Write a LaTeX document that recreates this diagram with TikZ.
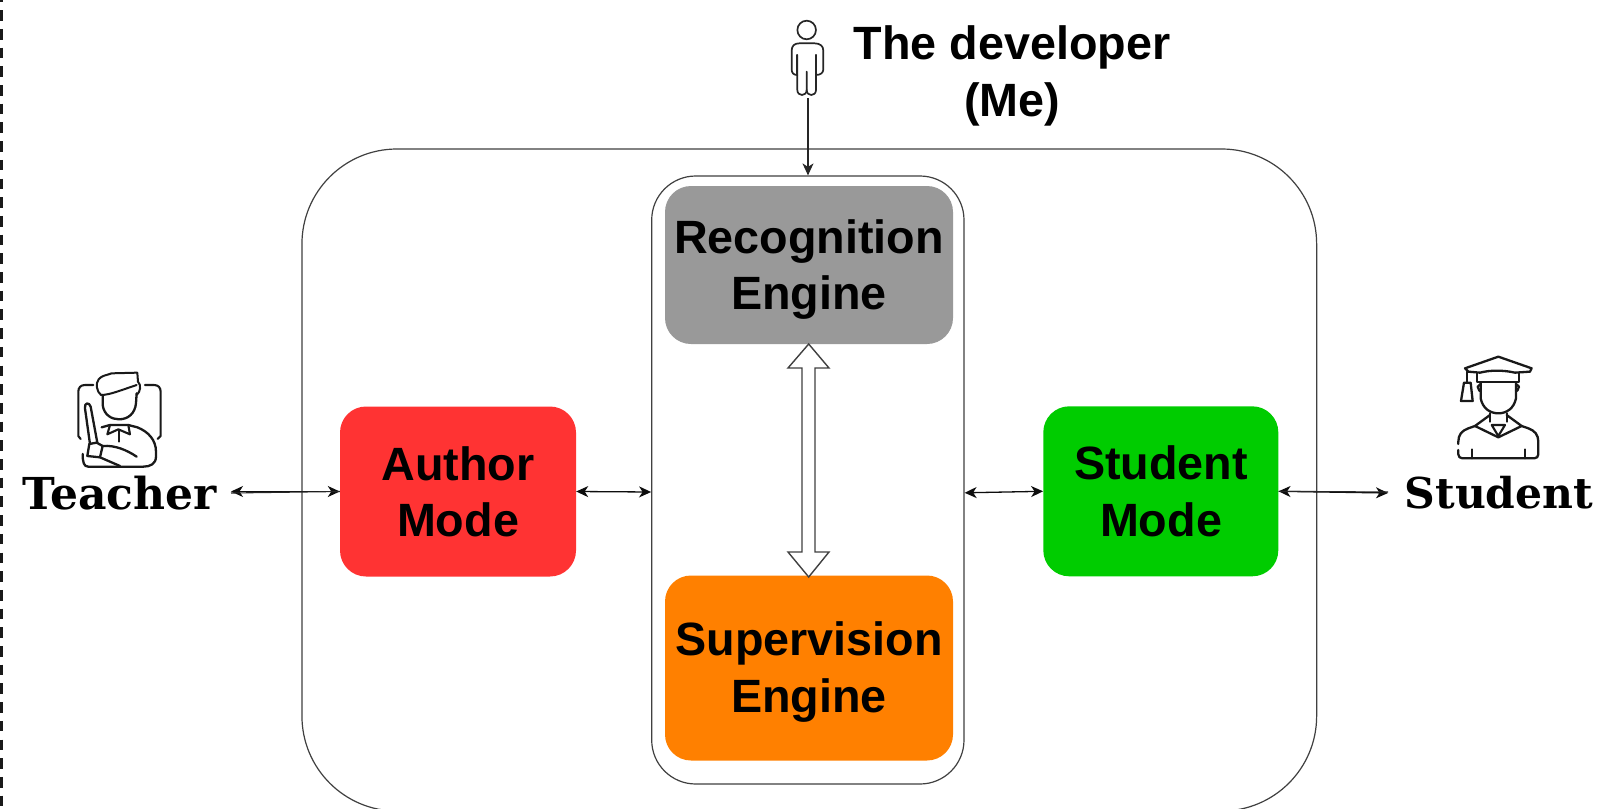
\documentclass[tikz,border=0pt]{standalone}
\usepackage{fontspec}
\setmainfont{Liberation Sans}
\newfontfamily\serifb{DejaVu Serif}
\usetikzlibrary{arrows.meta}
\definecolor{redbox}{HTML}{FF3333}
\definecolor{orangebox}{HTML}{FF8000}
\definecolor{greenbox}{HTML}{00CC00}
\definecolor{graybox}{HTML}{999999}
\tikzset{
  frame/.style={draw=black!75,line width=1.2pt,inner sep=0pt},
  block/.style={inner sep=0pt,rounded corners=26pt},
  blocktext/.style={inner sep=0pt,align=center,font=\fontsize{46.7}{56.5}\selectfont\bfseries},
  link/.style={line width=1.3pt,draw=black!95,{Stealth[length=12pt,width=11pt,inset=3.5pt]}-{Stealth[length=12pt,width=11pt,inset=3.5pt]}},
  oneway/.style={line width=1.3pt,draw=black!85,-{Stealth[length=12pt,width=11pt,inset=3.5pt]}},
  icon/.style={line cap=round,line join=round,draw=black!90},
  actor/.style={inner sep=0pt,anchor=base,font=\fontsize{42.5}{50}\serifb\bfseries},
}
\begin{document}
\begin{tikzpicture}[x=1pt,y=-1pt]
\useasboundingbox (0,0) rectangle (1610,809);
\clip (0,0) rectangle (1610,809);
\fill[white] (0,0) rectangle (1610,809);
% dashed left border
\draw[line width=2.7pt,draw=black!90,dash pattern=on 10.6pt off 8.1pt] (1.3,-8.5) -- (1.3,809);
% containers
\node[frame,rounded corners=95pt,minimum width=1014.7pt,minimum height=662pt] (outer) at (809.3,480) {};
\node[frame,rounded corners=44pt,minimum width=312.3pt,minimum height=608pt] (inner) at (807.85,480) {};
% blocks
\node[block,fill=graybox,minimum width=288pt,minimum height=158pt,
  label={[blocktext,yshift=-4.5pt]center:Recognition\\Engine}] (rec) at (809,265) {};
\node[block,fill=orangebox,minimum width=288pt,minimum height=185pt,
  label={[blocktext,yshift=-4pt]center:Supervision\\Engine}] (sup) at (809,668) {};
\node[block,fill=redbox,minimum width=236pt,minimum height=170pt,
  label={[blocktext,yshift=-0.2pt]center:Author\\Mode}] (author) at (458,491.5) {};
\node[block,fill=greenbox,minimum width=235pt,minimum height=170pt,
  label={[blocktext,yshift=-0.2pt,xshift=0.2pt]center:Student\\Mode}] (student) at (1160.8,491.3) {};
% labels
\node[actor,font=\fontsize{44}{50}\serifb\bfseries] (teacherlabel) at (119.8,509) {Teacher};
\node[actor] (studentlabel) at (1499,508) {Student};
\node[inner sep=0pt,align=center,font=\fontsize{46.7}{57}\selectfont\bfseries] (devlabel) at (1012,76) {The developer\\(Me)};
% anchors for free ends
\coordinate (teacherend) at (231,491.5);
\coordinate (teacherend2) at (231,493);
\coordinate (studentend) at (1388,493);
\coordinate (studentend2) at (1388,492);
\coordinate (devfoot) at (808,98);
% connectors
\draw[link] (teacherend) -- (author.west);
\draw[line width=1.1pt,draw=black!85] (teacherend2) -- (author.west);
\draw[link] (author.east) -- ([yshift=-0.5pt]author.east -| inner.west);
\draw[link] ([yshift=-1.5pt]student.west -| inner.east) -- (student.west);
\draw[link] (student.east) -- (studentend);
\draw[line width=1.1pt,draw=black!85] (student.east) -- (studentend2);
\draw[oneway] (devfoot) -- (inner.north -| devfoot);
% double block arrow between engines
\draw[line width=1.4pt,draw=black!75,fill=white,line join=miter]
  (808.7,344) -- (829,368) -- (815,368) -- (815,552) -- (829,552) -- (808.7,577)
  -- (788,552) -- (802,552) -- (802,368) -- (788,368) -- cycle;
% developer icon
\begin{scope}[shift={(760,0)},x=0.3333pt,y=-0.3333pt,line width=1.7pt,line cap=round,line join=round,draw=black!85]
\draw (140,90) circle[radius=9.3pt];
\draw (112,225) -- (112,165);
\draw (168,225) -- (168,165);
\draw (112,225) .. controls (100,225) and (95,218) .. (95,208) -- (95,152)
  .. controls (95,138) and (103,130) .. (118,130) -- (164,130)
  .. controls (180,130) and (190,138) .. (190,152) -- (190,208)
  .. controls (190,218) and (182,225) .. (168,225);
\draw (112,165) -- (112,270) .. controls (112,290) and (140,290) .. (140,270) -- (140,215);
\draw (140,270) .. controls (140,290) and (168,290) .. (168,270) -- (168,165);
\end{scope}
% teacher icon
\begin{scope}[shift={(0,340)},x=0.3333pt,y=-0.3333pt]
\draw[icon,line width=2.1pt] (280,135) -- (255,135) .. controls (242,135) and (235,143) .. (235,155) -- (235,288) -- (242,297);
\draw[icon,line width=2.1pt] (435,135) -- (462,135) .. controls (475,135) and (482,143) .. (482,155) -- (482,288) -- (473,297);
\draw[icon,line width=2pt] (303,165) .. controls (290,155) and (286,130) .. (296,118) .. controls (305,106) and (320,106) .. (335,100) -- (412,98) -- (414,125) .. controls (424,135) and (422,155) .. (410,165);
\draw[icon,line width=2pt] (303,165) .. controls (330,165) and (370,148) .. (410,135);
\draw[icon,line width=2.3pt] (308,165) -- (308,195) .. controls (312,225) and (335,238) .. (357,238) .. controls (385,238) and (405,220) .. (408,190) -- (410,160);
\draw[icon,line width=2.3pt] (305,262) -- (330,255) -- (385,255) -- (412,262) .. controls (445,275) and (468,300) .. (468,335) -- (468,350) .. controls (468,372) and (450,380) .. (430,380) -- (265,380) .. controls (252,380) and (248,368) .. (248,342);
\draw[icon,line width=2.1pt] (330,255) -- (322,283) -- (355,268) -- (390,283) -- (385,255);
\draw[icon,line width=2.1pt] (357,272) -- (357,305);
\draw[icon,line width=2.3pt] (292,308) -- (272,200) .. controls (268,185) and (252,188) .. (255,205) -- (270,312);
\draw[icon,line width=2.3pt] (268,312) -- (262,348) -- (300,352) -- (308,318) -- (290,308) -- cycle;
\draw[icon,line width=2.3pt] (308,318) .. controls (345,315) and (380,330) .. (410,350);
\draw[icon,line width=2.3pt] (300,352) -- (360,378);
\end{scope}
% student icon
\begin{scope}[shift={(1390,340)},x=0.3333pt,y=-0.3333pt]
\draw[icon,line width=2.3pt] (225,85) -- (325,50) -- (425,85) -- (420,95) -- (375,98) .. controls (340,90) and (300,90) .. (270,98) -- (235,95) -- cycle;
\draw[icon,line width=2.3pt] (262,100) -- (262,125) -- (388,125) -- (388,100);
\draw[icon,line width=2.1pt] (232,95) -- (232,125);
\draw[icon,line width=2.3pt] (222,128) -- (242,128) -- (248,183) -- (213,183) -- cycle;
\draw[icon,line width=2.3pt] (272,128) -- (272,175) .. controls (278,205) and (300,220) .. (325,220) .. controls (350,220) and (372,205) .. (378,175) -- (378,128);
\draw[icon,line width=2.3pt] (272,132) -- (263,140) -- (268,152) -- (272,152);
\draw[icon,line width=2.3pt] (378,132) -- (387,140) -- (382,152) -- (378,152);
\draw[icon,line width=2.3pt] (300,220) -- (300,245);
\draw[icon,line width=2.3pt] (350,220) -- (350,245);
\draw[icon,line width=2.3pt] (300,225) -- (255,258) -- (325,292) -- (395,258) -- (350,225);
\draw[icon,line width=2.1pt] (305,255) -- (345,255) -- (325,288) -- cycle;
\draw[icon,line width=2.3pt] (255,258) -- (235,265) .. controls (215,272) and (205,285) .. (205,305) -- (205,312);
\draw[icon,line width=2.3pt] (205,330) -- (205,343) .. controls (205,350) and (210,355) .. (217,355) -- (433,355) .. controls (440,355) and (445,350) .. (445,343) -- (445,305) .. controls (445,285) and (435,272) .. (415,265) -- (395,258);
\draw[icon,line width=2.1pt] (245,328) -- (245,355);
\draw[icon,line width=2.1pt] (405,328) -- (405,355);
\end{scope}
\end{tikzpicture}
\end{document}
